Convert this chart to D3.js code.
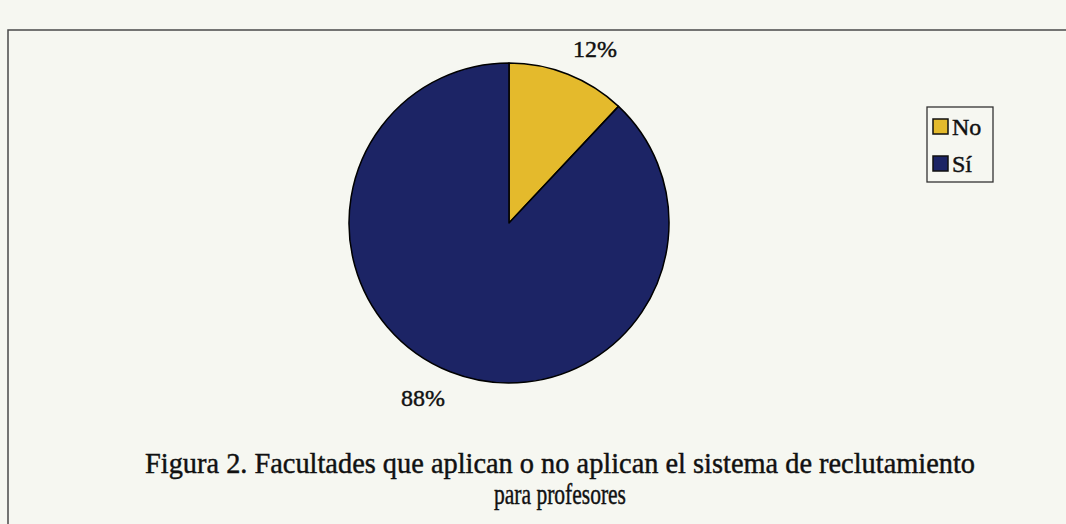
<!DOCTYPE html>
<html>
<head>
<meta charset="utf-8">
<script src="https://cdn.jsdelivr.net/npm/d3@7"></script>
<style>
  html, body { margin: 0; padding: 0; background: #f6f7f1; }
  svg { display: block; }
  text { stroke: #111; stroke-width: 0.45px; }
</style>
</head>
<body>
<svg width="1066" height="524"></svg>
<script>
var categories = ["No", "Sí"],
    values = [12, 88],
    colors = ["#e4ba2c", "#1c2465"];

var caption = ["Figura 2.  Facultades que aplican o no aplican el sistema de reclutamiento",
               "para profesores"];

var svg = d3.select("svg"),
    width = +svg.attr("width"),
    height = +svg.attr("height");

var cx = 509, cy = 223, r = 160;

// frame (runs off the right and bottom of the scan)
svg.append("path")
    .attr("d", "M8," + height + "V30H" + width)
    .attr("fill", "none")
    .attr("stroke", "#4a4a4a")
    .attr("stroke-width", 1.5);

var pie = d3.pie().sort(null).value(function(d) { return d; });
var arc = d3.arc().innerRadius(0).outerRadius(r);
var arcs = pie(values);

var g = svg.append("g").attr("transform", "translate(" + cx + "," + cy + ")");

g.selectAll("path")
    .data(arcs)
  .enter().append("path")
    .attr("d", arc)
    .attr("fill", function(d, i) { return colors[i]; })
    .attr("stroke", "#000")
    .attr("stroke-width", 1.5)
    .attr("stroke-linejoin", "round");

var total = d3.sum(values);

// percent labels just outside the slice
g.selectAll(".lbl")
    .data(arcs)
  .enter().append("text")
    .attr("class", "lbl")
    .attr("font-family", "Liberation Serif, Times New Roman, serif")
    .attr("font-size", 24)
    .attr("fill", "#111")
    .each(function(d) {
      var a = (d.startAngle + d.endAngle) / 2,
          rr = r + 14,
          px = Math.sin(a) * rr,
          py = -Math.cos(a) * rr;
      d3.select(this)
        .attr("x", px)
        .attr("y", py < 0 ? py - 4 : py + 21)
        .attr("text-anchor", px > 0 ? "start" : "end");
    })
    .text(function(d) { return Math.round(d.value / total * 100) + "%"; });

// legend
var legend = svg.append("g").attr("transform", "translate(927,107)");
legend.append("rect")
    .attr("width", 66).attr("height", 75)
    .attr("fill", "none")
    .attr("stroke", "#333")
    .attr("stroke-width", 1.3);

var item = legend.selectAll(".item")
    .data(categories)
  .enter().append("g")
    .attr("class", "item")
    .attr("transform", function(d, i) { return "translate(6," + (12 + i * 37) + ")"; });

item.append("rect")
    .attr("width", 15).attr("height", 15)
    .attr("fill", function(d, i) { return colors[i]; })
    .attr("stroke", "#111")
    .attr("stroke-width", 1.5);

item.append("text")
    .attr("x", 19)
    .attr("y", 15.5)
    .attr("font-family", "Liberation Serif, Times New Roman, serif")
    .attr("font-size", 24)
    .attr("fill", "#111")
    .text(function(d) { return d; });

// caption
svg.append("g")
    .attr("font-family", "Liberation Serif, Times New Roman, serif")
    .attr("font-size", 30)
    .attr("fill", "#111")
    .attr("text-anchor", "middle")
    .selectAll("text")
    .data(caption)
  .enter().append("text")
    .attr("x", 560)
    .attr("y", function(d, i) { return 473 + i * 31; })
    .attr("textLength", function(d, i) { return i == 0 ? 830 : 132; })
    .attr("lengthAdjust", "spacingAndGlyphs")
    .text(function(d) { return d; });
</script>
</body>
</html>
